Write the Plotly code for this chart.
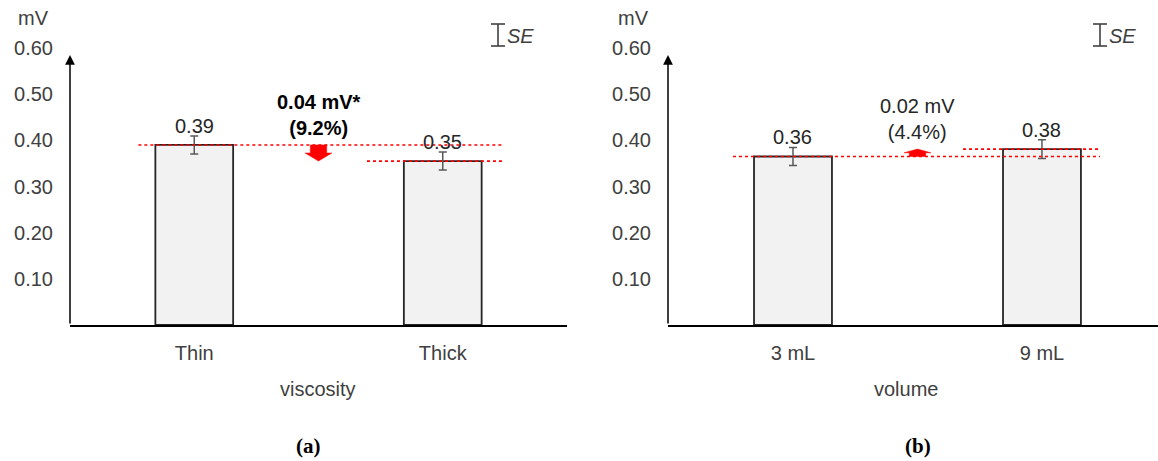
import plotly.graph_objects as go

W, H = 1158, 461

# ---- data ----
cats_a = ["Thin", "Thick"]
vals_a = [0.390, 0.355]
err_a = [0.0195, 0.0195]
labels_a = ["0.39", "0.35"]
diff_a = "<b>0.04 mV*<br>(9.2%)</b>"

cats_b = ["3 mL", "9 mL"]
vals_b = [0.365, 0.381]
err_b = [0.0195, 0.0205]
labels_b = ["0.36", "0.38"]
diff_b = "0.02 mV<br>(4.4%)"

ytick_vals = [0.1, 0.2, 0.3, 0.4, 0.5, 0.6]
ytick_text = ["0.10", "0.20", "0.30", "0.40", "0.50", "0.60"]

FONT = "Liberation Sans, Arial, sans-serif"
TXT = "#404040"
LBL = "#262626"
FS = 20

def px_x(p):
    return p / W

def px_y(p):
    return 1 - p / H

fig = go.Figure()

panels = [
    dict(cats=cats_a, vals=vals_a, err=err_a, labels=labels_a, diff=diff_a,
         diff_y=115,
         xa="x", ya="y", dom=[px_x(70), px_x(567)], rng=[-0.5, 1.5],
         title="viscosity", title_x=318, tag="<b>(a)</b>", tag_x=308,
         mv_x=33, se_x=498,
         line_top=(-0.225, 1.241), line_low=(0.695, 1.241), bold=True),
    dict(cats=cats_b, vals=vals_b, err=err_b, labels=labels_b, diff=diff_b,
         diff_y=119,
         xa="x2", ya="y2", dom=[px_x(668), 1.0], rng=[-0.502, 1.466],
         title="volume", title_x=906, tag="<b>(b)</b>", tag_x=918,
         mv_x=633, se_x=1100,
         line_top=(0.683, 1.233), line_low=(-0.241, 1.233), bold=False),
]

annotations = []
shapes = []

for i, p in enumerate(panels):
    xs = list(range(len(p["cats"])))
    # bars
    fig.add_trace(go.Bar(
        x=xs, y=p["vals"], width=0.313,
        marker=dict(color="#f2f2f2", line=dict(color=LBL, width=1.8)),
        error_y=dict(type="data", array=p["err"], color="#595959",
                     thickness=1.5, width=4),
        xaxis=p["xa"], yaxis=p["ya"], showlegend=False, hoverinfo="skip",
    ))
    # red dotted reference lines
    v0, v1 = p["vals"]
    hi, lo = (v0, v1) if v0 > v1 else (v1, v0)
    for (x0, x1), yv in [(p["line_top"], hi), (p["line_low"], lo)]:
        fig.add_trace(go.Scatter(
            x=[x0, x1], y=[yv, yv], mode="lines",
            line=dict(color="#ff0000", width=1.6, dash="dot"),
            xaxis=p["xa"], yaxis=p["ya"], showlegend=False, hoverinfo="skip",
        ))
    # red block arrow from first value to second value
    xc = 0.5
    sw, hw = 0.033, 0.054
    mid = (v0 + v1) / 2
    ax_pts = [xc - sw, xc + sw, xc + sw, xc + hw, xc, xc - hw, xc - sw, xc - sw]
    ay_pts = [v0, v0, mid, mid, v1, mid, mid, v0]
    fig.add_trace(go.Scatter(
        x=ax_pts, y=ay_pts, mode="lines", fill="toself",
        fillcolor="#ff0000", line=dict(color="#ff0000", width=0.5),
        xaxis=p["xa"], yaxis=p["ya"], showlegend=False, hoverinfo="skip",
    ))
    # bar value labels
    for xi, v, e, t in zip(xs, p["vals"], p["err"], p["labels"]):
        annotations.append(dict(
            x=xi, y=v + e, xref=p["xa"], yref=p["ya"], text=t,
            showarrow=False, xanchor="center", yanchor="bottom", yshift=-3,
            font=dict(family=FONT, size=FS, color=LBL)))
    # difference annotation
    annotations.append(dict(
        x=0.5, y=px_y(p["diff_y"]), xref=p["xa"], yref="paper", text=p["diff"],
        showarrow=False, xanchor="center", yanchor="middle",
        font=dict(family=FONT, size=FS, color="#000000" if p["bold"] else LBL)))
    # y axis with arrow
    annotations.append(dict(
        x=p["rng"][0], y=0.585, ax=p["rng"][0], ay=0,
        xref=p["xa"], yref=p["ya"], axref=p["xa"], ayref=p["ya"],
        showarrow=True, arrowhead=2, arrowsize=1.3, arrowwidth=1.5,
        arrowcolor="#000000", standoff=0, text=""))
    # axis title
    annotations.append(dict(
        x=px_x(p["title_x"]), y=px_y(389), xref="paper", yref="paper",
        text=p["title"], showarrow=False, xanchor="center", yanchor="middle",
        font=dict(family=FONT, size=FS, color=TXT)))
    # panel tag
    annotations.append(dict(
        x=px_x(p["tag_x"]), y=px_y(446), xref="paper", yref="paper",
        text=p["tag"], showarrow=False, xanchor="center", yanchor="middle",
        font=dict(family="Liberation Serif, DejaVu Serif, serif", size=21,
                  color="#000000")))
    # mV unit
    annotations.append(dict(
        x=px_x(p["mv_x"]), y=px_y(18), xref="paper", yref="paper",
        text="mV", showarrow=False, xanchor="center", yanchor="middle",
        font=dict(family=FONT, size=FS, color=TXT)))
    # SE legend symbol
    sx = p["se_x"]
    for (x0, y0, x1, y1) in [(sx, 24, sx, 46), (sx - 7, 24, sx + 7, 24),
                             (sx - 7, 46, sx + 7, 46)]:
        shapes.append(dict(type="line", xref="paper", yref="paper",
                           x0=px_x(x0), y0=px_y(y0), x1=px_x(x1), y1=px_y(y1),
                           line=dict(color=TXT, width=1.6)))
    annotations.append(dict(
        x=px_x(sx + 7), y=px_y(36), xref="paper", yref="paper",
        text="<i>SE</i>", showarrow=False, xanchor="left", yanchor="middle",
        font=dict(family=FONT, size=FS, color=TXT)))

ydom = [px_y(325), px_y(48)]
common_y = dict(range=[0, 0.6], domain=ydom, tickvals=ytick_vals,
                ticktext=ytick_text, showgrid=False, zeroline=False,
                showline=False, ticks="", ticklabelstandoff=16,
                automargin=False,
                tickfont=dict(family=FONT, size=FS, color=TXT), fixedrange=True)

def xaxis_cfg(p):
    return dict(domain=p["dom"], range=p["rng"], tickvals=[0, 1],
                ticktext=p["cats"], showgrid=False, zeroline=False,
                showline=True, linecolor="#000000", linewidth=1.6,
                ticks="", ticklabelstandoff=9, automargin=False,
                tickfont=dict(family=FONT, size=FS, color=TXT), fixedrange=True)

fig.update_layout(
    width=W, height=H,
    margin=dict(l=0, r=0, t=0, b=0, pad=0, autoexpand=False),
    paper_bgcolor="white", plot_bgcolor="white",
    xaxis=dict(**xaxis_cfg(panels[0]), anchor="y"),
    yaxis=dict(**common_y, anchor="x"),
    xaxis2=dict(**xaxis_cfg(panels[1]), anchor="y2"),
    yaxis2=dict(**common_y, anchor="x2"),
    annotations=annotations,
    shapes=shapes,
    bargap=0,
)

fig.write_html("out.html",
               config={"displayModeBar": False, "staticPlot": True},
               post_script="document.body.style.margin='0';document.body.style.overflow='hidden';")
